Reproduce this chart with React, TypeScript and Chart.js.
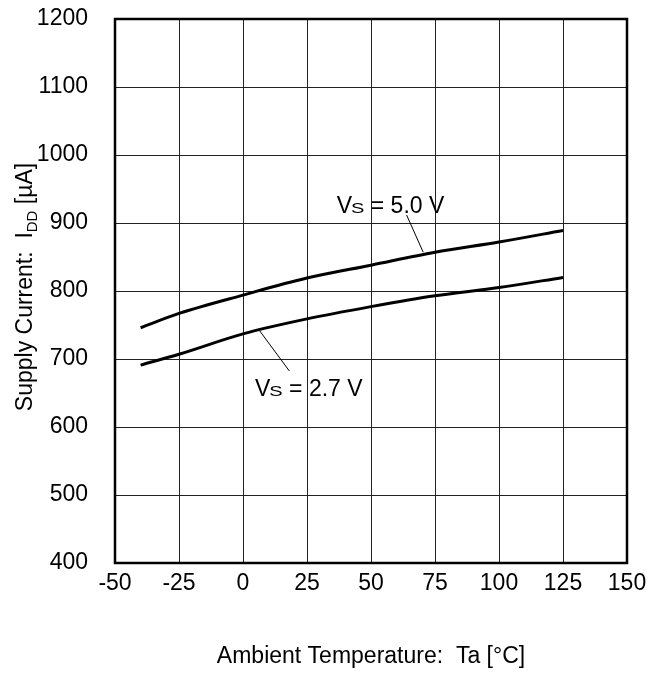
import React, { useEffect, useRef } from 'react';
import { Chart, registerables } from 'chart.js';

Chart.register(...registerables);

// ---- data ----
const temperatures = [-40, -25, 0, 25, 50, 75, 100, 125];
const current50 = [746, 767, 794, 819, 838, 857, 872, 889];
const current27 = [691, 707, 737, 759, 777, 793, 805, 820];

const xMin = -50;
const xMax = 150;
const xStep = 25;
const yMin = 400;
const yMax = 1200;
const yStep = 100;

const xTitle = 'Ambient Temperature:  Ta [°C]';
const yTitleMain = 'Supply Current:  I';
const yTitleSub = 'DD';
const yTitleEnd = ' [µA]';

// annotation labels: [value text, x, y] in data units
const label50 = ['5.0 V', 36.6, 915];
const label27 = ['2.7 V', 4.7, 645.6];
// leader lines: [x1, y1, x2, y2] in data units
const leader50 = [63.9, 911.8, 70.4, 857];
const leader27 = [6.4, 742, 18.1, 682.4];

const FONT = '"Liberation Sans", Arial, Helvetica, sans-serif';

const overlay = {
  id: 'overlay',
  afterDraw(chart: any) {
    const { ctx, chartArea: a, scales } = chart;
    const xs = scales.x;
    const ys = scales.y;
    ctx.save();
    // frame
    ctx.strokeStyle = '#000';
    ctx.lineWidth = 2.5;
    ctx.strokeRect(a.left, a.top, a.right - a.left, a.bottom - a.top);

    // leaders
    ctx.lineWidth = 1;
    for (const l of [leader50, leader27]) {
      ctx.beginPath();
      ctx.moveTo(xs.getPixelForValue(l[0]), ys.getPixelForValue(l[1]));
      ctx.lineTo(xs.getPixelForValue(l[2]), ys.getPixelForValue(l[3]));
      ctx.stroke();
    }

    // Vs labels
    ctx.fillStyle = '#000';
    ctx.textBaseline = 'alphabetic';
    ctx.textAlign = 'left';
    for (const lb of [label50, label27]) {
      const px = xs.getPixelForValue(lb[1] as number);
      const py = ys.getPixelForValue(lb[2] as number);
      ctx.font = `23px ${FONT}`;
      ctx.fillText('V', px, py);
      const wV = ctx.measureText('V').width;
      ctx.font = `20px ${FONT}`;
      const sx = px + wV - 1;
      const wS = ctx.measureText('S').width;
      ctx.save();
      ctx.translate(sx, py);
      ctx.scale(1, 0.75);
      ctx.fillText('S', 0, 0);
      ctx.restore();
      ctx.font = `23px ${FONT}`;
      ctx.fillText(' = ' + lb[0], sx + wS, py);
    }

    // x title
    ctx.font = `23px ${FONT}`;
    ctx.textAlign = 'center';
    ctx.fillText(xTitle, (a.left + a.right) / 2, chart.height - 10);

    // y title (rotated, with subscript)
    ctx.textAlign = 'left';
    ctx.font = `23px ${FONT}`;
    const w1 = ctx.measureText(yTitleMain).width;
    const w3 = ctx.measureText(yTitleEnd).width;
    ctx.font = `15px ${FONT}`;
    const w2 = ctx.measureText(yTitleSub).width;
    const total = w1 + w2 + w3;
    ctx.translate(32, (a.top + a.bottom) / 2 - 4);
    ctx.rotate(-Math.PI / 2);
    let cx = -total / 2;
    ctx.font = `23px ${FONT}`;
    ctx.fillText(yTitleMain, cx, 0);
    cx += w1;
    ctx.font = `15px ${FONT}`;
    ctx.fillText(yTitleSub, cx, 5);
    cx += w2;
    ctx.font = `23px ${FONT}`;
    ctx.fillText(yTitleEnd, cx, 0);
    ctx.restore();
  },
};

export default function App() {
  const ref = useRef<HTMLCanvasElement | null>(null);
  useEffect(() => {
    if (!ref.current) return;
    const chart = new Chart(ref.current, {
      type: 'line',
      data: {
        datasets: [
          {
            label: 'Vs = 5.0 V',
            data: temperatures.map((t, i) => ({ x: t, y: current50[i] })),
            borderColor: '#000',
            borderWidth: 3,
            pointRadius: 0,
            cubicInterpolationMode: 'monotone',
            fill: false,
          },
          {
            label: 'Vs = 2.7 V',
            data: temperatures.map((t, i) => ({ x: t, y: current27[i] })),
            borderColor: '#000',
            borderWidth: 3,
            pointRadius: 0,
            cubicInterpolationMode: 'monotone',
            fill: false,
          },
        ],
      },
      options: {
        animation: false,
        responsive: false,
        devicePixelRatio: 1,
        layout: { padding: { top: 19, right: 35, left: 0, bottom: 0 } },
        plugins: {
          legend: { display: false },
          tooltip: { enabled: false },
          title: { display: false },
        },
        scales: {
          x: {
            type: 'linear',
            min: xMin,
            max: xMax,
            ticks: {
              stepSize: xStep,
              color: '#000',
              padding: 7,
              maxRotation: 0,
              font: { family: FONT, size: 23 },
              callback: (v: any) => String(v),
            },
            grid: { color: '#222', lineWidth: 1, drawTicks: false },
            border: { display: false },
            afterFit: (s: any) => {
              s.height = 110;
              s.paddingLeft = 0;
              s.paddingRight = 0;
            },
          },
          y: {
            type: 'linear',
            min: yMin,
            max: yMax,
            ticks: {
              stepSize: yStep,
              color: '#000',
              padding: 27,
              font: { family: FONT, size: 23 },
              callback: (v: any) => String(v),
            },
            grid: { color: '#222', lineWidth: 1, drawTicks: false },
            border: { display: false },
            afterFit: (s: any) => {
              s.width = 115;
              s.paddingTop = 0;
              s.paddingBottom = 0;
            },
          },
        },
      },
      plugins: [overlay],
    } as any);
    return () => chart.destroy();
  }, []);
  return (
    <div style={{ position: 'absolute', left: 0, top: 0, width: 662, height: 673, background: '#fff' }}>
      <canvas ref={ref} width={662} height={673} />
    </div>
  );
}
